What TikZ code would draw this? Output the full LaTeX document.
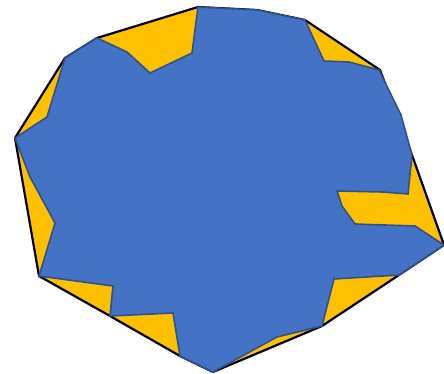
\documentclass[tikz,border=0pt]{standalone}
\usepackage{tikz}
\definecolor{hullyellow}{HTML}{FFC000}
\definecolor{shapeblue}{HTML}{4472C4}
\definecolor{shapeedge}{HTML}{2F528F}
\tikzset{
  hull/.style={fill=hullyellow, draw=black, line width=2.2pt, line join=miter},
  blob/.style={fill=shapeblue, draw=shapeedge, line width=1.6pt, line join=miter}
}
\begin{document}
\begin{tikzpicture}[x=1pt,y=-1pt]
\useasboundingbox (0,0) rectangle (444,374);
% convex hull
\draw[hull] (198,7) -- (257,10) -- (305,20) -- (380,70) -- (412,155) -- (444,245) -- (399,275) -- (322,326)
  -- (213,372) -- (180,356) -- (110,316) -- (39,276) -- (15,138) -- (65,58) -- (97,38) -- cycle;
% polygon
\draw[blob] (198,7) -- (257,10) -- (305,20) -- (324,61) -- (349,62) -- (379,70) -- (401,115) -- (412,155)
  -- (408,194) -- (383,192) -- (337,191) -- (342,206) -- (355,224) -- (415,226) -- (444,245)
  -- (399,275) -- (334,279) -- (322,326) -- (277,337) -- (213,372) -- (180,356) -- (173,313)
  -- (110,316) -- (113,286) -- (39,276) -- (55,223) -- (30,177) -- (15,138) -- (47,117)
  -- (65,58) -- (97,38) -- (127,52) -- (150,73) -- (192,53) -- cycle;
\end{tikzpicture}
\end{document}
